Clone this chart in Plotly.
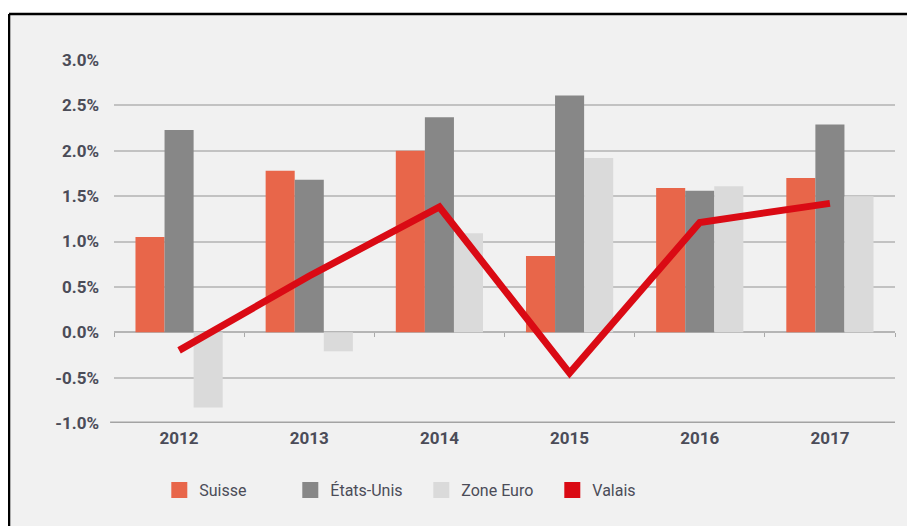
"""Croissance du PIB réel : Suisse, États-Unis, Zone Euro et Valais, 2012-2017"""

import plotly.graph_objects as go

# data (percent)
years = ["2012", "2013", "2014", "2015", "2016", "2017"]
suisse = [1.05, 1.78, 2.00, 0.84, 1.59, 1.70]
etats_unis = [2.23, 1.68, 2.37, 2.61, 1.56, 2.29]
zone_euro = [-0.83, -0.21, 1.09, 1.92, 1.61, 1.50]
valais = [-0.20, 0.62, 1.38, -0.45, 1.21, 1.42]

y_ticks = [-1.0, -0.5, 0.0, 0.5, 1.0, 1.5, 2.0, 2.5, 3.0]
y_labels = ["-1.0%", "-0.5%", "0.0%", "0.5%", "1.0%", "1.5%", "2.0%", "2.5%", "3.0%"]

colors = {
    "Suisse": "#E8664A",
    "États-Unis": "#878787",
    "Zone Euro": "#DADADA",
    "Valais": "#DA0A14",
}

FONT = "Roboto"
TEXT = "#4b4c58"

fig = go.Figure()

for name, values in [("Suisse", suisse), ("États-Unis", etats_unis), ("Zone Euro", zone_euro)]:
    fig.add_trace(go.Bar(x=years, y=values, name=name, marker_color=colors[name],
                         marker_line_width=0, showlegend=False))

fig.add_trace(go.Scatter(x=years, y=valais, name="Valais", mode="lines",
                         line=dict(color=colors["Valais"], width=7),
                         showlegend=False))

# legend entries as big squares (like the original)
for name in ["Suisse", "États-Unis", "Zone Euro", "Valais"]:
    fig.add_trace(go.Scatter(x=[None], y=[None], name=name, mode="markers",
                             marker=dict(symbol="square", size=19, color=colors[name])))

# the page body adds an 8px offset, margins take it into account
fig.update_layout(
    width=907,
    height=518,
    margin=dict(l=106, r=20, t=52, b=103),
    paper_bgcolor="white",
    plot_bgcolor="rgba(0,0,0,0)",
    barmode="group",
    bargap=0.33,
    bargroupgap=0,
    font=dict(family=FONT, size=15, color=TEXT),
    showlegend=True,
    legend=dict(orientation="h", x=0.058, xanchor="left", y=-0.185, yanchor="middle",
                entrywidth=86, font=dict(family=FONT, size=16, color=TEXT),
                bgcolor="rgba(0,0,0,0)", itemclick=False),
    xaxis=dict(showgrid=False, showline=False, ticks="", ticklabelstandoff=3,
               tickfont=dict(family=FONT, size=17, color=TEXT, weight="bold")),
    yaxis=dict(range=[-1.0, 3.0], tickvals=y_ticks, ticktext=y_labels,
               showgrid=True, gridcolor="#C2C2C2", gridwidth=2,
               zeroline=True, zerolinecolor="#B5B5B5", zerolinewidth=2,
               showline=False, ticks="", ticklabelstandoff=14,
               tickfont=dict(family=FONT, size=17, color=TEXT, weight="bold")),
    # small tick marks on the zero line at category boundaries
    xaxis2=dict(overlaying="x", anchor="free", position=0.25, range=[-0.5, 5.5],
                tickvals=[-0.5, 0.5, 1.5, 2.5, 3.5, 4.5, 5.5], ticks="outside",
                ticklen=4, tickcolor="#AAAAAA", tickwidth=1, showticklabels=False,
                showgrid=False, showline=False, zeroline=False),
    shapes=[
        # light panel, border only on top and left
        dict(type="rect", xref="paper", yref="paper", x0=-0.1344, x1=1.06,
             y0=-0.35, y1=1.1267, layer="below",
             fillcolor="#F1F1F1", line=dict(width=0)),
        dict(type="line", xref="paper", yref="paper", x0=-0.1344, x1=1.06,
             y0=1.1267, y1=1.1267, layer="below", line=dict(color="black", width=2.5)),
        dict(type="line", xref="paper", yref="paper", x0=-0.1344, x1=-0.1344,
             y0=-0.35, y1=1.1267, layer="below", line=dict(color="black", width=2.5)),
        # darker baseline at -1.0%
        dict(type="line", xref="paper", yref="y", x0=-0.005, x1=1.0, y0=-1.0, y1=-1.0,
             line=dict(color="#A3A3A3", width=3)),
    ],
)

# dummy trace so the tick-mark axis renders
fig.add_trace(go.Scatter(x=[None], y=[None], xaxis="x2", showlegend=False, hoverinfo="skip"))

fig.write_html("out.html")
